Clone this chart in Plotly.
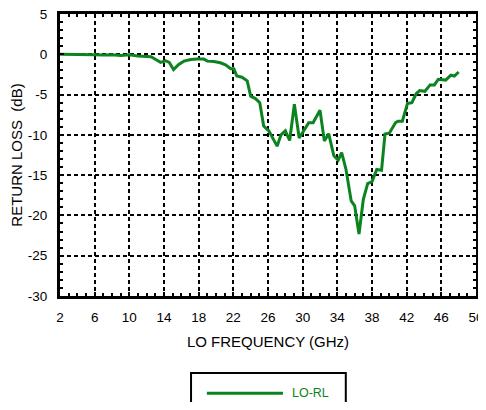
import plotly.graph_objects as go

# ---- data ----
freq_ghz = [2, 3, 4, 5, 6, 7, 8, 9, 10, 11,
            12, 12.5, 13.2, 13.6, 14.2, 14.6, 15.1, 15.7, 16.3, 17.1,
            17.8, 18.6, 19.0, 19.75, 20.5, 21.1, 21.7, 22.06, 22.4, 23.0,
            23.6, 24.0, 24.55, 25.05, 25.5, 26.1, 27.05, 27.5, 28.0, 28.5,
            29.04, 29.6, 30.7, 31.2, 32.0, 32.5, 33.0, 33.6, 34.1, 34.5,
            35.0, 35.6, 36.0, 36.5, 37.0, 37.5, 38.0, 38.55, 39.1, 39.5,
            40.0, 40.7, 41.0, 41.5, 42.1, 42.6, 43.1, 43.5, 44.1, 44.7,
            45.2, 45.65, 46.5, 47.1, 47.5, 48.0]
lo_rl_db = [0.0, 0.0, 0.0, -0.05, -0.05, -0.1, -0.05, -0.15, -0.05, -0.2,
            -0.25, -0.3, -0.75, -1.0, -0.8, -1.0, -1.9, -1.25, -0.85, -0.65,
            -0.6, -0.6, -0.85, -0.9, -1.05, -1.3, -1.8, -1.8, -2.7, -2.85,
            -3.3, -5.2, -5.5, -6.0, -8.9, -9.5, -11.4, -10.0, -9.5, -10.7,
            -6.2, -10.4, -8.5, -8.5, -6.95, -10.75, -9.85, -12.6, -13.15, -12.2,
            -14.3, -18.2, -18.8, -22.3, -18.0, -16.05, -15.8, -14.3, -14.4, -9.9,
            -9.8, -8.5, -8.3, -8.3, -6.1, -6.0, -4.9, -4.5, -4.6, -3.8,
            -3.8, -3.1, -3.2, -2.6, -2.7, -2.2]
series_name = "LO-RL"
x_ticks = [2, 6, 10, 14, 18, 22, 26, 30, 34, 38, 42, 46, 50]
y_ticks = [5, 0, -5, -10, -15, -20, -25, -30]

GREEN = "#0b8420"
FONT = "Liberation Sans, Arial, Helvetica, sans-serif"

fig = go.Figure()
fig.add_trace(go.Scatter(
    x=freq_ghz, y=lo_rl_db, mode="lines", name=series_name,
    line=dict(color=GREEN, width=3), showlegend=False,
))

axis_common = dict(
    showline=True, linewidth=3, linecolor="black", mirror="allticks",
    showgrid=True, gridcolor="black", gridwidth=2, griddash="4px,3px",
    ticks="inside", ticklen=4, tickwidth=1.5, tickcolor="black",
    zeroline=False, automargin=False, ticklabeloverflow="allow",
    tickfont=dict(family=FONT, size=13.5, color="black"),
)

fig.update_xaxes(
    range=[2, 50], tickmode="array", tickvals=x_ticks,
    ticktext=[str(v) for v in x_ticks], ticklabelstandoff=7,
    minor=dict(dtick=1, tick0=2, ticks="inside", ticklen=3, tickwidth=1.5,
               tickcolor="black", showgrid=False),
    title=dict(text="LO FREQUENCY (GHz)", standoff=13,
               font=dict(family=FONT, size=15, color="black")),
    **axis_common,
)
fig.update_yaxes(
    range=[-30, 5], tickmode="array", tickvals=y_ticks,
    ticktext=[str(v) for v in y_ticks], ticklabelstandoff=7,
    minor=dict(dtick=1, tick0=0, ticks="inside", ticklen=3, tickwidth=1.5,
               tickcolor="black", showgrid=False),
    title=dict(text="RETURN LOSS\u00a0\u00a0(dB)", standoff=11,
               font=dict(family=FONT, size=15, color="black")),
    **axis_common,
)

# ---- legend box (drawn manually to match the long sample line) ----
fig.add_shape(type="rect", xref="paper", yref="paper",
              x0=0.315, x1=0.687, y0=-0.45, y1=-0.273,
              line=dict(color="black", width=2), fillcolor="white")
fig.add_shape(type="line", xref="paper", yref="paper",
              x0=0.353, x1=0.536, y0=-0.345, y1=-0.345,
              line=dict(color=GREEN, width=3))
fig.add_annotation(text=series_name, xref="paper", yref="paper",
                   x=0.553, y=-0.345, xanchor="left", yanchor="middle",
                   showarrow=False,
                   font=dict(family=FONT, size=12.5, color=GREEN))

# the page body has an 8px default margin, so the figure is sized to fit
# the window without scrollbars
fig.update_layout(
    width=478, height=394,
    margin=dict(l=52, r=10, t=6, b=106),
    plot_bgcolor="white", paper_bgcolor="white",
    font=dict(family=FONT, color="black"),
)

fig.write_html("out.html")
